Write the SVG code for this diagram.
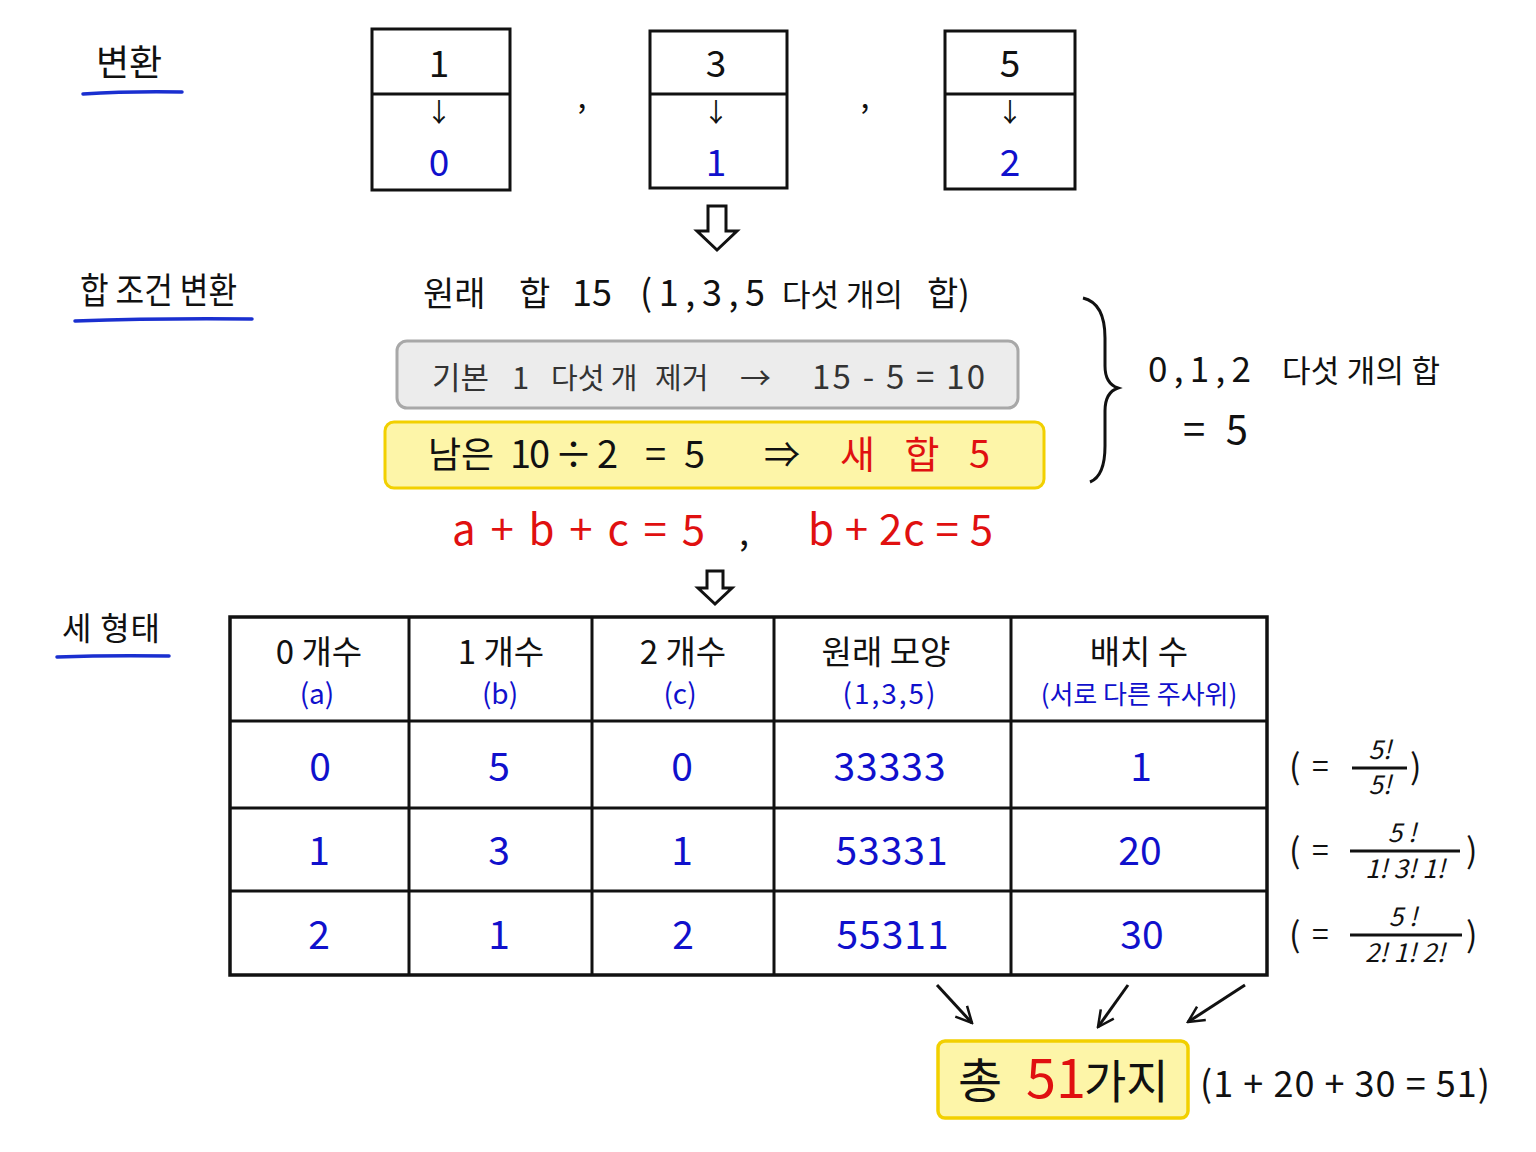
<svg xmlns="http://www.w3.org/2000/svg" width="1536" height="1152" viewBox="0 0 1536 1152">
<style>
text{font-family:"Noto Sans CJK KR","Noto Sans",sans-serif;fill:#111;}
.c{text-anchor:middle;}
.blue{fill:#1010cc;}
.red{fill:#e01010;}
.gray{fill:#333;}
.box{fill:#fff;stroke:#111;stroke-width:3;}
.ln{stroke:#111;stroke-width:3;fill:none;}
.ul{stroke:#1a2fd0;stroke-width:3.5;fill:none;stroke-linecap:round;}
.hollow{fill:#fff;stroke:#111;stroke-width:3;stroke-linejoin:miter;}
.frac{font-style:italic;font-size:26px;}
.hd{font-size:33px;}
.hd2{font-size:28px;}
.num{font-size:39px;}
.dn{font-size:26px;}
</style>
<defs>
<marker id="ah" viewBox="0 0 20 20" refX="18" refY="10" markerWidth="20" markerHeight="20" markerUnits="userSpaceOnUse" orient="auto">
<path d="M2,2 L18,10 L2,18" fill="none" stroke="#111" stroke-width="2.5"/>
</marker>
</defs>
<rect width="1536" height="1152" fill="#fff"/>

<g id="label-byeonhwan">
<text x="129" y="76" class="c" font-size="36">변환</text>
<path class="ul" d="M83,94 Q130,91 182,92"/>
</g>

<g id="box1">
<rect class="box" x="372" y="29" width="138" height="161"/>
<line class="ln" x1="372" y1="94" x2="510" y2="94"/>
<text x="439" y="77" class="c" font-size="37">1</text>
<text x="439" y="122" class="c dn">↓</text>
<text x="439" y="176" class="c blue" font-size="37">0</text>
</g>
<text x="582" y="108" class="c" font-size="32">,</text>
<g id="box2">
<rect class="box" x="650" y="31" width="137" height="157"/>
<line class="ln" x1="650" y1="94" x2="787" y2="94"/>
<text x="716" y="77" class="c" font-size="37">3</text>
<text x="716" y="122" class="c dn">↓</text>
<text x="716" y="176" class="c blue" font-size="37">1</text>
</g>
<text x="865" y="108" class="c" font-size="32">,</text>
<g id="box3">
<rect class="box" x="945" y="31" width="130" height="158"/>
<line class="ln" x1="945" y1="94" x2="1075" y2="94"/>
<text x="1010" y="77" class="c" font-size="37">5</text>
<text x="1010" y="122" class="c dn">↓</text>
<text x="1010" y="176" class="c blue" font-size="37">2</text>
</g>

<g id="connectors">
<path class="hollow" d="M708,206 L726,206 L726,231 L737,231 L717,250 L697,231 L708,231 Z"/>
<path class="hollow" d="M707,571 L723,571 L723,588 L732,588 L715,604 L698,588 L707,588 Z"/>
<line class="ln" x1="937" y1="985" x2="972" y2="1023" marker-end="url(#ah)" stroke-width="2.5"/>
<line class="ln" x1="1128" y1="985" x2="1098" y2="1027" marker-end="url(#ah)" stroke-width="2.5"/>
<line class="ln" x1="1245" y1="985" x2="1188" y2="1022" marker-end="url(#ah)" stroke-width="2.5"/>
</g>

<g id="label-hapjogeon">
<text x="80" y="304" font-size="36" textLength="157" lengthAdjust="spacingAndGlyphs">합 조건 변환</text>
<path class="ul" d="M75,321 Q160,318 252,319"/>
</g>

<g id="original-sum">
<text x="423" y="306" font-size="34">원래</text>
<text x="519" y="306" font-size="34">합</text>
<text x="572" y="306" font-size="36">15</text>
<text x="640" y="306" font-size="36" textLength="125" lengthAdjust="spacing">(1,3,5</text>
<text x="782" y="306" font-size="31">다섯 개의</text>
<text x="927" y="306" font-size="34">합)</text>
</g>

<g id="gray-box">
<rect x="397" y="341" width="621" height="67" rx="10" fill="#ececec" stroke="#a8a8a8" stroke-width="3"/>
<text x="432" y="389" class="gray" font-size="31">기본</text>
<text x="512" y="389" class="gray" font-size="31">1</text>
<text x="551" y="389" class="gray" font-size="29">다섯 개</text>
<text x="655" y="389" class="gray" font-size="29">제거</text>
<text x="740" y="389" class="gray" font-size="31">→</text>
<text x="812" y="389" class="gray" font-size="33" textLength="173" lengthAdjust="spacing">15 - 5 = 10</text>
</g>

<g id="yellow-box">
<rect x="385" y="422" width="659" height="66" rx="9" fill="#fdf5a8" stroke="#f2d000" stroke-width="3"/>
<text x="428" y="468" font-size="36">남은</text>
<text x="510" y="468" font-size="38" textLength="108" lengthAdjust="spacing">10 ÷ 2</text>
<text x="645" y="468" font-size="38" textLength="60" lengthAdjust="spacing">= 5</text>
<text x="764" y="468" font-size="36">⇒</text>
<text x="840" y="468" class="red" font-size="38" textLength="150" lengthAdjust="spacing">새  합  5</text>
</g>

<g id="equations">
<text x="452" y="545" class="red" font-size="42" textLength="253" lengthAdjust="spacing">a + b + c = 5</text>
<text x="744" y="545" class="c" font-size="36">,</text>
<text x="808" y="545" class="red" font-size="42" textLength="185" lengthAdjust="spacing">b + 2c = 5</text>
</g>

<g id="brace-note">
<path class="ln" stroke-width="3" d="M1083,298 C1100,302 1105,318 1105,338 L1105,366 C1105,378 1109,385 1118,388 C1109,391 1105,398 1105,411 L1105,446 C1105,466 1100,478 1090,482"/>
<text x="1148" y="382" font-size="35" textLength="103" lengthAdjust="spacing">0,1,2</text>
<text x="1282" y="382" font-size="31" textLength="158" lengthAdjust="spacing">다섯 개의 합</text>
<text x="1183" y="444" font-size="40" textLength="65" lengthAdjust="spacing">= 5</text>
</g>

<g id="label-three">
<text x="62" y="640" font-size="32" textLength="98" lengthAdjust="spacing">세 형태</text>
<path class="ul" d="M57,657 Q110,655 169,656"/>
</g>

<g id="table">
<rect x="230" y="617" width="1037" height="358" fill="#fff" stroke="#111" stroke-width="3.5"/>
<line class="ln" x1="409" y1="617" x2="409" y2="975"/>
<line class="ln" x1="592" y1="617" x2="592" y2="975"/>
<line class="ln" x1="774" y1="617" x2="774" y2="975"/>
<line class="ln" x1="1011" y1="617" x2="1011" y2="975"/>
<line class="ln" x1="230" y1="721" x2="1267" y2="721" stroke-width="3.5"/>
<line class="ln" x1="230" y1="808" x2="1267" y2="808"/>
<line class="ln" x1="230" y1="891" x2="1267" y2="891"/>
<text x="319" y="664" class="c hd">0 개수</text>
<text x="501" y="664" class="c hd">1 개수</text>
<text x="683" y="664" class="c hd">2 개수</text>
<text x="886" y="664" class="c hd">원래  모양</text>
<text x="1139" y="664" class="c hd">배치 수</text>
<text x="317" y="704" class="c blue hd2">(a)</text>
<text x="500" y="704" class="c blue hd2">(b)</text>
<text x="680" y="704" class="c blue hd2">(c)</text>
<text x="890" y="704" class="c blue hd2" letter-spacing="2">(1,3,5)</text>
<text x="1139" y="704" class="c blue" font-size="26">(서로 다른 주사위)</text>
<text x="320" y="781" class="c blue num">0</text>
<text x="499" y="781" class="c blue num">5</text>
<text x="682" y="781" class="c blue num">0</text>
<text x="890" y="781" class="c blue num" letter-spacing="1">33333</text>
<text x="1141" y="781" class="c blue num">1</text>
<text x="319" y="865" class="c blue num">1</text>
<text x="499" y="865" class="c blue num">3</text>
<text x="682" y="865" class="c blue num">1</text>
<text x="892" y="865" class="c blue num" letter-spacing="1">53331</text>
<text x="1140" y="865" class="c blue num">20</text>
<text x="319" y="949" class="c blue num">2</text>
<text x="499" y="949" class="c blue num">1</text>
<text x="683" y="949" class="c blue num">2</text>
<text x="893" y="949" class="c blue num" letter-spacing="1">55311</text>
<text x="1142" y="949" class="c blue num">30</text>
</g>

<g id="fractions">
<text x="1289" y="779" font-size="34">(</text>
<text x="1312" y="777" font-size="30">=</text>
<line class="ln" x1="1352" y1="768" x2="1407" y2="768" stroke-width="2"/>
<text x="1380" y="759" class="c frac">5!</text>
<text x="1380" y="794" class="c frac">5!</text>
<text x="1410" y="779" font-size="34">)</text>

<text x="1289" y="863" font-size="34">(</text>
<text x="1312" y="861" font-size="30">=</text>
<line class="ln" x1="1350" y1="851" x2="1460" y2="851" stroke-width="2"/>
<text x="1402" y="842" class="c frac">5 !</text>
<text x="1405" y="878" class="c frac">1! 3! 1!</text>
<text x="1466" y="863" font-size="34">)</text>

<text x="1289" y="947" font-size="34">(</text>
<text x="1312" y="945" font-size="30">=</text>
<line class="ln" x1="1350" y1="935" x2="1462" y2="935" stroke-width="2"/>
<text x="1403" y="926" class="c frac">5 !</text>
<text x="1405" y="962" class="c frac">2! 1! 2!</text>
<text x="1466" y="947" font-size="34">)</text>
</g>

<g id="total">
<rect x="938" y="1041" width="250" height="77" rx="7" fill="#fdf5a8" stroke="#f2d000" stroke-width="3.5"/>
<text x="958" y="1098" font-size="48">총</text>
<text x="1026" y="1098" class="red" font-size="54">51</text>
<text x="1084" y="1098" font-size="46">가지</text>
<text x="1200" y="1097" font-size="36" textLength="290" lengthAdjust="spacing">(1 + 20 + 30 = 51)</text>
</g>
</svg>
